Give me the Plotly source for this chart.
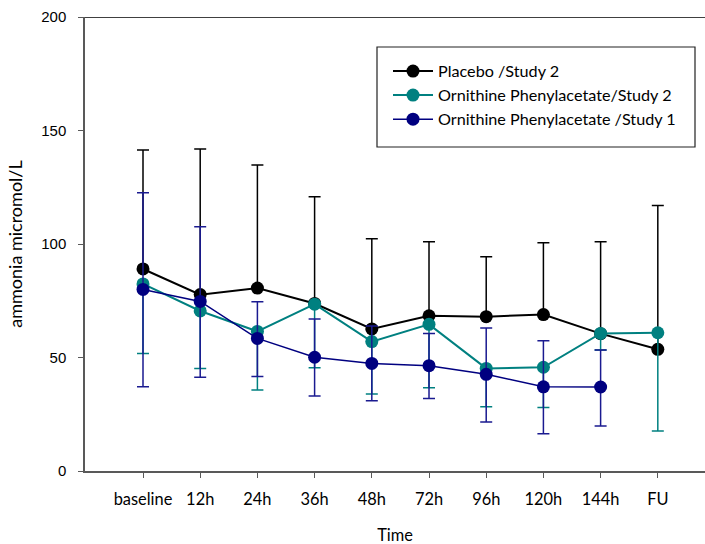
import plotly.graph_objects as go

categories = ["baseline", "12h", "24h", "36h", "48h", "72h", "96h", "120h", "144h", "FU"]

placebo_s2 = [89, 77.7, 80.6, 73.8, 62.6, 68.4, 68, 68.9, 60.5, 53.6]
placebo_s2_upper = [141.4, 141.9, 134.8, 120.8, 102.3, 101, 94.4, 100.5, 101, 117]

op_s2 = [82.4, 70.5, 61.5, 73.5, 57, 64.6, 45.2, 45.7, 60.6, 60.9]
op_s2_lower = [51.8, 45.1, 35.7, 45.5, 33.9, 36.7, 28.3, 28, 53.3, 17.6]

op_s1 = [80, 74.7, 58.4, 50.1, 47.4, 46.4, 42.6, 37.1, 37, None]
op_s1_upper = [122.6, 107.6, 74.6, 67, 63.9, 60.6, 63, 57.4, 53.3, None]
op_s1_lower = [37.1, 41.3, 41.6, 33, 31, 31.9, 21.6, 16.4, 19.8, None]

names = ["Placebo /Study 2", "Ornithine Phenylacetate/Study 2", "Ornithine Phenylacetate /Study 1"]
colors = ["#000000", "#008080", "#000080"]

xi = list(range(len(categories)))

def diff(a, b):
    return [None if (p is None or q is None) else round(p - q, 3) for p, q in zip(a, b)]

fig = go.Figure()

fig.add_trace(go.Scatter(
    x=xi, y=placebo_s2, name=names[0], mode="lines+markers",
    line=dict(color=colors[0], width=2),
    marker=dict(size=13, color=colors[0]),
    error_y=dict(type="data", symmetric=False,
                 array=diff(placebo_s2_upper, placebo_s2),
                 arrayminus=[0] * len(placebo_s2),
                 color="#000000", thickness=1.5, width=6),
))
fig.add_trace(go.Scatter(
    x=xi, y=op_s2, name=names[1], mode="lines+markers",
    line=dict(color=colors[1], width=2),
    marker=dict(size=13, color=colors[1]),
    error_y=dict(type="data", symmetric=False,
                 array=[0] * len(op_s2),
                 arrayminus=diff(op_s2, op_s2_lower),
                 color=colors[1], thickness=1.5, width=6),
))
fig.add_trace(go.Scatter(
    x=xi, y=op_s1, name=names[2], mode="lines+markers",
    line=dict(color=colors[2], width=1.5),
    marker=dict(size=13, color=colors[2]),
    error_y=dict(type="data", symmetric=False,
                 array=diff(op_s1_upper, op_s1),
                 arrayminus=diff(op_s1, op_s1_lower),
                 color="#1a1a90", thickness=1.5, width=6),
))

fig.update_layout(
    width=705, height=544,
    margin=dict(l=85, r=0, t=17, b=73, autoexpand=False),
    paper_bgcolor="white", plot_bgcolor="white",
    showlegend=True,
    legend=dict(x=(388 - 85) / 620, y=(471 - 54) / 454, xanchor="left", yanchor="top",
                bgcolor="rgba(0,0,0,0)", borderwidth=0,
                font=dict(family="Lato", size=16.2, color="#000000"),
                itemwidth=40, tracegroupgap=0),
    shapes=[
        dict(type="line", xref="paper", yref="y", x0=0, x1=1, y0=200, y1=200,
             line=dict(color="#000000", width=1.5)),
        dict(type="rect", xref="paper", yref="paper",
             x0=(377 - 85) / 620, x1=(695 - 85) / 620,
             y0=(471 - 147) / 454, y1=(471 - 47) / 454,
             line=dict(color="#222222", width=1.2), fillcolor="rgba(0,0,0,0)"),
    ],
)

fig.update_xaxes(
    automargin=False,
    tickmode="array", tickvals=xi, ticktext=categories,
    range=[-1.014, 9.825],
    showgrid=False, zeroline=False,
    showline=True, linecolor="#595959", linewidth=1.5,
    ticks="outside", ticklen=5, tickcolor="#595959", tickwidth=1.2,
    tickfont=dict(family="Lato", size=16.4, color="#000000"),
    ticklabelstandoff=8,
    title=dict(text="Time", font=dict(family="Lato", size=16.4, color="#000000"), standoff=24),
)
fig.update_yaxes(
    automargin=False,
    range=[0, 200], tickvals=[0, 50, 100, 150, 200],
    showgrid=False, zeroline=False,
    showline=True, linecolor="#595959", linewidth=1.5,
    ticks="outside", ticklen=5, tickcolor="#595959", tickwidth=1.2,
    tickfont=dict(family="Liberation Sans", size=15, color="#000000"),
    ticklabelstandoff=9,
    title=dict(text="ammonia micromol/L", font=dict(family="Lato", size=18, color="#000000"), standoff=14),
)

fig.write_html("out.html", config={"displayModeBar": False},
               post_script="document.body.style.margin='0px';document.body.style.overflow='hidden';")
